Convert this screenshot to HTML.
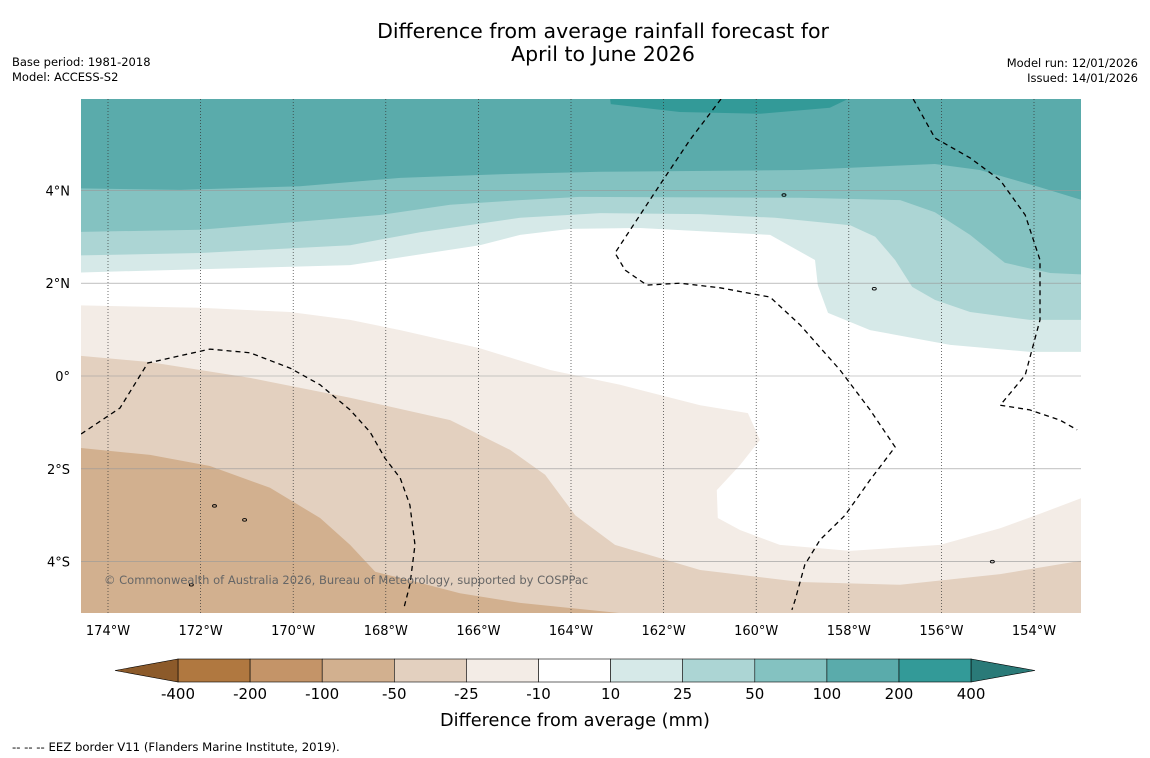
<!DOCTYPE html>
<html><head><meta charset="utf-8">
<style>
body{margin:0;background:#fff;font-family:"DejaVu Sans","Liberation Sans",sans-serif;}
#wrap{position:relative;width:1150px;height:758px;overflow:hidden;background:#fff;}
svg text{font-family:"DejaVu Sans","Liberation Sans",sans-serif;}
</style></head>
<body>
<div id="wrap">
<svg id="svg" width="1150" height="758" xmlns="http://www.w3.org/2000/svg">
<defs><clipPath id="mapclip"><rect x="81" y="99" width="1000" height="514"/></clipPath></defs>
<text x="603" y="38" text-anchor="middle" font-size="20.5" fill="#000">Difference from average rainfall forecast for</text>
<text x="603" y="61" text-anchor="middle" font-size="20.5" fill="#000">April to June 2026</text>
<text x="12" y="66" font-size="11.5">Base period: 1981-2018</text>
<text x="12" y="81" font-size="11.5">Model: ACCESS-S2</text>
<text x="1138" y="67" font-size="11.5" text-anchor="end">Model run: 12/01/2026</text>
<text x="1138" y="82" font-size="11.5" text-anchor="end">Issued: 14/01/2026</text>
<g id="map" clip-path="url(#mapclip)"><rect x="81" y="99" width="1000" height="514" fill="#fff"/></g>
<g id="axes"></g>
<g id="cbar"></g>
<text x="575" y="726" text-anchor="middle" font-size="17.7">Difference from average (mm)</text>
<text x="12" y="751" font-size="11.7">--  --  -- EEZ border V11 (Flanders Marine Institute, 2019).</text>
</svg>
</div>
<script>
// axis ranges
const lonTicks=[-174,-172,-170,-168,-166,-164,-162,-160,-158,-156,-154];
const latTicks=[4,2,0,-2,-4];
const cbLevels=[-400,-200,-100,-50,-25,-10,10,25,50,100,200,400];
const cbColors=["#b07840","#c49468","#d2b08f","#e3d0bf","#f3ece6","#ffffff","#d6e9e8","#acd5d4","#84c2c1","#5aabab","#339a98"];
// contour boundaries [lon,lat]
const c10=[[-175,2.22],[-168.77,2.39],[-165.97,2.82],[-165.1,3.04],[-164.02,3.17],[-162.51,3.19],[-159.7,3.04],[-158.73,2.5],[-158.67,1.96],[-158.45,1.36],[-157.54,0.99],[-155.81,0.67],[-154.09,0.52],[-152.5,0.52]];
const c25=[[-175,2.59],[-172.01,2.65],[-168.77,2.82],[-167.26,3.10],[-165.1,3.41],[-163.37,3.51],[-161.21,3.49],[-159.59,3.41],[-157.97,3.25],[-157.43,3.0],[-157.0,2.5],[-156.63,1.92],[-156.14,1.64],[-155.38,1.38],[-154.09,1.21],[-152.5,1.21]];
const c50=[[-175,3.10],[-172.01,3.15],[-168.13,3.47],[-166.61,3.69],[-165.1,3.79],[-163.81,3.86],[-159.05,3.84],[-156.89,3.79],[-156.14,3.53],[-155.38,3.04],[-154.63,2.44],[-153.65,2.22],[-152.5,2.17]];
const c100=[[-175,4.05],[-172.44,4.01],[-169.85,4.09],[-167.69,4.27],[-165.53,4.35],[-163.37,4.40],[-159.05,4.44],[-156.14,4.57],[-155.17,4.44],[-153.87,4.07],[-152.5,3.65]];
const c200=[[-163.2,6.3],[-163.14,5.86],[-161.65,5.69],[-159.92,5.65],[-158.41,5.78],[-157.33,6.3]];
const cm10=[[-175,1.53],[-172.01,1.47],[-170.07,1.38],[-168.77,1.21],[-167.69,0.99],[-165.97,0.6],[-164.45,0.13],[-162.94,-0.19],[-161.21,-0.63],[-160.18,-0.8],[-159.92,-1.38],[-160.35,-1.92],[-160.85,-2.46],[-160.83,-3.06],[-160.35,-3.32],[-159.49,-3.64],[-157.97,-3.77],[-156.03,-3.64],[-154.73,-3.28],[-153.87,-2.97],[-152.5,-2.45]];
const cm25=[[-175,0.47],[-173.09,0.30],[-170.93,-0.04],[-168.77,-0.47],[-166.61,-0.95],[-165.32,-1.59],[-164.56,-2.13],[-163.91,-3.0],[-163.05,-3.64],[-161.21,-4.18],[-159.05,-4.44],[-156.89,-4.5],[-154.73,-4.27],[-152.5,-3.9]];
const cm50=[[-175,-1.51],[-173.09,-1.70],[-171.8,-1.94],[-170.5,-2.41],[-169.42,-3.06],[-168.77,-3.64],[-168.23,-4.22],[-167.26,-4.46],[-166.4,-4.68],[-165.1,-4.89],[-164.02,-5.0],[-162.94,-5.11],[-162.5,-5.3]];
const eez1=[[-174.58,-1.25],[-173.74,-0.69],[-173.14,0.28],[-171.8,0.58],[-170.93,0.5],[-170.07,0.17],[-169.42,-0.19],[-168.77,-0.73],[-168.34,-1.21],[-168.02,-1.77],[-167.69,-2.2],[-167.48,-2.78],[-167.37,-3.64],[-167.48,-4.5],[-167.61,-5.0]];
const eez2=[[-160.76,5.97],[-161.43,5.09],[-162.08,4.12],[-162.51,3.47],[-163.05,2.65],[-162.83,2.28],[-162.36,1.96],[-161.65,2.0],[-160.78,1.9],[-159.7,1.70],[-159.05,1.10],[-158.19,0.13],[-157.54,-0.73],[-157.0,-1.53],[-157.54,-2.24],[-158.08,-3.0],[-158.62,-3.53],[-158.95,-4.07],[-159.16,-4.83],[-159.23,-5.04]];
const eez3=[[-156.61,5.97],[-156.14,5.13],[-155.38,4.70],[-154.73,4.22],[-154.19,3.47],[-153.87,2.5],[-153.87,1.21],[-154.19,0.02],[-154.73,-0.63],[-154.09,-0.73],[-153.44,-0.95],[-153.07,-1.16]];
const islands=[[-157.45,1.88],[-159.4,3.9],[-171.7,-2.8],[-171.05,-3.1],[-172.2,-4.5],[-154.9,-4.0]];

const NS="http://www.w3.org/2000/svg";
function X(lon){return 108+(lon+174)*46.3;}
function Y(lat){return 376-lat*46.4;}
function el(t,a,p){const e=document.createElementNS(NS,t);for(const k in a)e.setAttribute(k,a[k]);p.appendChild(e);return e;}
function pts(arr){return arr.map(p=>X(p[0]).toFixed(1)+","+Y(p[1]).toFixed(1)).join(" ");}
const map=document.getElementById('map');
function fillTop(arr,col,name){const a=[[arr[0][0],7]].concat(arr,[[arr[arr.length-1][0],7]]);
 const e=el('polygon',{points:pts(a),fill:col},map);
 
 }
function fillBot(arr,col,name){const a=[[arr[0][0],-7]].concat(arr,[[arr[arr.length-1][0],-7]]);
 const e=el('polygon',{points:pts(a),fill:col},map);
 
 }
fillTop(c10,cbColors[6],'band-10-25');
fillTop(c25,cbColors[7],'band-25-50');
fillTop(c50,cbColors[8],'band-50-100');
fillTop(c100,cbColors[9],'band-100-200');
fillTop(c200,cbColors[10],'band-200-400');
fillBot(cm10,cbColors[4],'band-minus10-25');
fillBot(cm25,cbColors[3],'band-minus25-50');
fillBot(cm50,cbColors[2],'band-minus50-100');
// grid
lonTicks.forEach(l=>{const e=el('line',{x1:X(l),x2:X(l),y1:99,y2:613,stroke:'#333','stroke-width':0.7,'stroke-dasharray':'1,2'},map);
 
 });
latTicks.forEach(l=>{const e=el('line',{x1:81,x2:1081,y1:Y(l),y2:Y(l),stroke:'#999','stroke-width':0.6},map);
 
 });
[eez1,eez2,eez3].forEach(a=>{const e=el('polyline',{points:pts(a),fill:'none',stroke:'#000','stroke-width':1.3,'stroke-dasharray':'5,4'},map);
 
 });
islands.forEach(p=>{const e=el('ellipse',{cx:X(p[0]),cy:Y(p[1]),rx:2,ry:1.3,fill:'none',stroke:'#000','stroke-width':0.9},map);
 
 });
const cr=el('text',{x:104,y:584,'font-size':11.5,fill:'#666'},map);cr.textContent='© Commonwealth of Australia 2026, Bureau of Meteorology, supported by COSPPac';


const ax=document.getElementById('axes');
lonTicks.forEach(l=>{const t=el('text',{x:X(l),y:635,'font-size':13,'text-anchor':'middle'},ax);t.textContent=Math.abs(l)+'°W';
 
 });
latTicks.forEach(l=>{const t=el('text',{x:70,y:Y(l)+5,'font-size':13,'text-anchor':'end'},ax);t.textContent=l===0?'0°':Math.abs(l)+'°'+(l>0?'N':'S');
 
 });
// colorbar
const cb=document.getElementById('cbar');
const cbx0=178,cbw=72.1,cby=659,cbh=23;
cbColors.forEach((c,i)=>{const r=el('rect',{x:cbx0+i*cbw,y:cby,width:cbw,height:cbh,fill:c,stroke:'#000','stroke-width':0.6},cb);
 
 });
const lt=el('polygon',{points:`${cbx0},${cby} ${cbx0},${cby+cbh} 115,${cby+cbh/2}`,fill:'#8c5a2a',stroke:'#000','stroke-width':0.6},cb);


const xe=cbx0+cbColors.length*cbw;
const rt=el('polygon',{points:`${xe},${cby} ${xe},${cby+cbh} 1035,${cby+cbh/2}`,fill:'#2a7a78',stroke:'#000','stroke-width':0.6},cb);


cbLevels.forEach((v,i)=>{const t=el('text',{x:cbx0+i*cbw,y:699,'font-size':15,'text-anchor':'middle'},cb);t.textContent=v;
 
 });
</script>
</body></html>
